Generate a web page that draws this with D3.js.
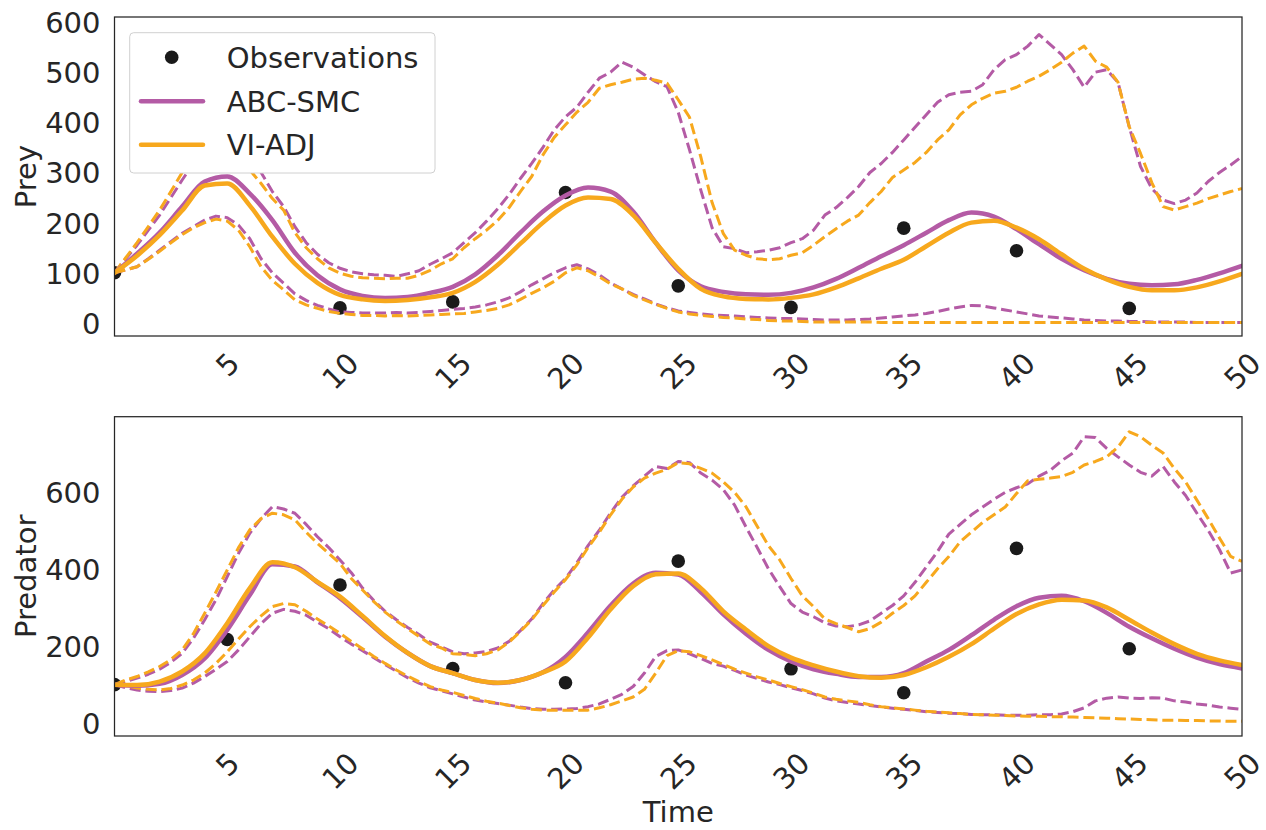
<!DOCTYPE html>
<html><head><meta charset="utf-8">
<script src="https://cdn.jsdelivr.net/npm/d3@7"></script>
<style>body{margin:0;background:#fff}svg{display:block;font-family:"DejaVu Sans",sans-serif}</style>
</head><body><svg id="c" width="1266" height="830"></svg>
<script>
// ---------- data ----------
const obsTime = [0,5,10,15,20,25,30,35,40,45];
const preyObs = [100,335,30,42,260,74,31,189,144,29];
const predObs = [100,217,358,142,105,420,141,79,453,193];

const meanTime = d3.range(51);               // t = 0..50 step 1
const bandTime = d3.range(101).map(i => i / 2); // t = 0..50 step 0.5

const preyAbcMean = [100,138,180,232,282,292,258,205,140,95, 67,54,50,52,60,72,97,135,180,222, 254,270,262,222,160,105,73,62,57,56, 60,71,88,110,133,155,180,205,220,212, 187,157,128,105,88,78,75,77,86,99, 114];
const preyViMean  = [100,134,175,224,274,278,234,172,118,80, 56,47,44,46,51,60,82,116,158,200, 234,250,247,215,160,108,68,53,48,47, 50,57,71,89,108,126,153,180,200,204, 190,167,137,108,87,72,65,65,71,83, 98];

const preyAbcUpper = [100,128,155,185,215,250,285,318,350,375, 385,375,340,300,262,232,192,160,137,120, 109,102,98,96,95,93,98,104,117,128, 140,160,180,203,228,256,288,318,350,385, 411,430,460,488,500,520,510,495,481,471, 420,345,265,190,152,148,140,142,145,150, 160,168,185,215,230,250,272,300,318,340, 365,390,415,440,455,460,462,475,505,525, 535,552,575,555,535,505,470,500,505,480, 391,312,268,245,238,245,259,282,300,315, 332];
const preyViUpper  = [100,130,160,192,225,262,300,335,360,372, 365,340,305,278,248,225,180,150,128,110, 99,93,90,89,88,89,89,95,105,118, 128,150,168,185,205,230,262,292,335,370, 395,420,440,468,475,480,486,488,484,478, 445,410,331,240,178,145,135,128,126,128, 135,140,155,172,188,203,215,240,262,290, 305,320,340,365,385,415,435,448,458,462, 470,482,492,505,520,538,552,522,510,480, 391,338,280,232,225,232,239,248,255,262, 268];
const preyAbcLower = [100,106,112,128,145,162,179,192,205,213, 210,195,168,128,100,79,58,45,35,28, 22,21,20,20,20,21,20,21,23,25, 27,29,32,36,42,50,62,76,88,100, 110,116,108,96,80,68,57,48,38,30, 24,21,18,16,15,14,12,11,10,9, 9,8,7,6,6,6,7,8,10,12, 14,16,19,23,28,32,35,34,30,26, 22,18,14,12,10,8,6,5,4,4, 3,3,2,2,2,2,1,1,1,1, 1];
const preyViLower  = [100,106,112,127,143,160,176,190,200,207, 203,185,152,112,85,66,46,36,29,23, 19,17,15,15,14,15,14,15,16,17, 18,19,22,25,29,36,47,59,70,83, 100,110,104,92,78,68,55,46,37,29, 22,18,15,13,11,10,8,7,5,4, 4,3,2,2,2,2,2,2,1,1, 1,1,1,1,1,1,1,1,1,1, 1,1,1,1,1,1,1,1,1,1, 1,1,1,1,1,1,1,1,1,1, 1];

const predAbcMean = [100,97,102,125,168,242,332,412,406,365, 324,275,224,182,148,130,112,104,112,132, 172,235,305,362,390,385,340,282,232,190, 160,140,128,120,120,130,160,190,228,268, 303,325,330,316,286,250,220,193,170,153, 142];
const predViMean  = [100,99,108,134,181,259,350,417,404,366, 328,278,226,182,148,130,112,105,112,132, 160,222,295,355,386,388,350,290,243,200, 170,150,134,122,118,125,145,172,205,245, 283,308,320,318,300,268,235,205,180,163, 151];

const predAbcUpper = [100,108,117,127,140,158,181,220,268,320, 380,440,492,530,561,555,544,515,483,455, 423,390,350,318,290,268,248,230,210,198, 185,180,182,186,195,212,240,270,310,345, 375,415,460,500,545,585,615,640,665,660, 678,675,648,630,605,565,509,455,400,354, 310,288,276,260,252,250,255,265,285,305, 330,365,405,445,490,515,540,560,580,598, 610,620,640,655,680,700,742,740,712,690, 669,650,640,665,625,590,544,500,450,389, 397];
const predViUpper  = [100,112,121,133,147,165,190,232,285,340, 397,455,501,530,544,540,527,495,466,440, 414,375,345,315,288,265,245,225,205,195, 180,178,175,180,190,210,238,268,305,340, 372,410,455,495,540,580,612,635,648,658, 675,672,660,648,625,598,561,510,460,423, 375,330,302,270,258,248,237,245,262,285, 305,330,365,400,432,470,495,520,540,560, 595,628,632,635,639,650,669,678,690,715, 755,742,720,700,660,625,578,530,480,432, 419];
const predAbcLower = [100,92,86,83,82,85,91,104,121,140, 160,190,224,258,285,295,290,280,262,245, 224,205,188,170,152,135,118,104,92,84, 76,68,60,55,51,47,42,38,36,36, 37,38,43,50,62,75,95,130,173,188, 190,180,168,155,148,137,125,116,107,100, 92,85,76,65,58,54,50,46,42,39, 36,33,30,28,26,25,23,22,22,21, 21,21,22,22,24,30,40,58,65,68, 65,64,66,65,58,55,50,47,42,39, 36];
const predViLower  = [100,98,91,88,86,90,99,112,130,155, 185,218,250,278,302,310,307,290,270,252, 233,212,193,173,155,138,122,108,95,86, 80,72,64,57,52,46,40,36,34,34, 34,34,34,40,48,58,68,88,130,175, 188,185,175,164,152,140,130,120,112,103, 95,87,78,68,62,58,54,48,43,40, 37,34,31,29,27,25,23,22,21,20, 19,18,18,17,17,16,15,14,13,12, 11,10,9,8,8,7,7,6,6,5, 5];

const xTicks = [5,10,15,20,25,30,35,40,45,50];
const preyTicks = [0,100,200,300,400,500,600];
const predTicks = [0,200,400,600];
const seriesNames = ["Observations","ABC-SMC","VI-ADJ"];

// ---------- style ----------
const PURPLE = "#b45ba5", ORANGE = "#f7a81d", DOT = "#1a1a1a", TXT = "#262626";
const FS = 29;
const svg = d3.select("#c");
const L = 114.5, R = 1242;
const x = d3.scaleLinear().domain([0, 50]).range([L, R]);

const panels = [
  {id:"p1", top:17, bottom:336, dom:[-26,610], ticks:preyTicks, label:"Prey", obs:preyObs,
   abc:[preyAbcMean,preyAbcUpper,preyAbcLower], vi:[preyViMean,preyViUpper,preyViLower]},
  {id:"p2", top:416.7, bottom:736, dom:[-33,794], ticks:predTicks, label:"Predator", obs:predObs,
   abc:[predAbcMean,predAbcUpper,predAbcLower], vi:[predViMean,predViUpper,predViLower]}
];

const defs = svg.append("defs");
const plotLayer = svg.append("g");
const axisLayer = svg.append("g");
const legendLayer = svg.append("g");

panels.forEach(p => {
  const y = d3.scaleLinear().domain(p.dom).range([p.bottom, p.top]);
  defs.append("clipPath").attr("id", "clip-" + p.id)
    .append("rect").attr("x", L).attr("y", p.top).attr("width", R - L).attr("height", p.bottom - p.top);
  const g = plotLayer.append("g").attr("clip-path", `url(#clip-${p.id})`);

  // observations (drawn below lines)
  g.selectAll("circle.obs").data(obsTime.map((t, i) => [t, p.obs[i]])).join("circle")
    .attr("class", "obs").attr("cx", d => x(d[0])).attr("cy", d => y(d[1])).attr("r", 6.8).attr("fill", DOT);

  const lineMean = d3.line().x((d, i) => x(meanTime[i])).y(d => y(d)).curve(d3.curveMonotoneX);
  const lineBand = d3.line().x((d, i) => x(bandTime[i])).y(d => y(d));

  [[p.abc, PURPLE], [p.vi, ORANGE]].forEach(([set, col]) => {
    [set[1], set[2]].forEach(arr => {
      g.append("path").attr("d", lineBand(arr)).attr("fill", "none").attr("stroke", col)
        .attr("stroke-width", 3).attr("stroke-dasharray", "11,4.8").attr("stroke-linejoin", "round");
    });
  });
  [[p.abc, PURPLE], [p.vi, ORANGE]].forEach(([set, col]) => {
    g.append("path").attr("d", lineMean(set[0])).attr("fill", "none").attr("stroke", col)
      .attr("stroke-width", 4.5).attr("stroke-linecap", "round");
  });

  // frame
  axisLayer.append("rect").attr("x", L).attr("y", p.top).attr("width", R - L).attr("height", p.bottom - p.top)
    .attr("fill", "none").attr("stroke", TXT).attr("stroke-width", 1.25);

  // y axis
  const ya = axisLayer.append("g").attr("transform", `translate(${L},0)`)
    .call(d3.axisLeft(y).tickValues(p.ticks).tickSize(0).tickPadding(14).tickFormat(d3.format("d")));
  ya.select(".domain").remove();
  ya.selectAll("text").attr("font-size", FS).attr("font-family", "DejaVu Sans").attr("fill", TXT).attr("dy", "0.36em");

  // x axis
  const xa = axisLayer.append("g").attr("transform", `translate(0,${p.bottom})`)
    .call(d3.axisBottom(x).tickValues(xTicks).tickSize(0).tickFormat(d3.format("d")));
  xa.select(".domain").remove();
  xa.selectAll("text").attr("font-size", FS).attr("font-family", "DejaVu Sans").attr("fill", TXT)
    .attr("y", null).attr("dy", null).attr("dominant-baseline", "central").attr("text-anchor", "middle")
    .each(function () {
      const w = this.getComputedTextLength();
      const bh = (w + 34) * Math.SQRT1_2;
      d3.select(this).attr("transform", `translate(0,${10 + bh / 2}) rotate(-45)`);
    });

  // y label
  axisLayer.append("text").attr("transform", `translate(36,${(p.top + p.bottom) / 2}) rotate(-90)`)
    .attr("text-anchor", "middle").attr("font-size", FS).attr("fill", TXT).text(p.label);
});

axisLayer.append("text").attr("x", (L + R) / 2).attr("y", 822).attr("text-anchor", "middle")
  .attr("font-size", FS).attr("fill", TXT).text("Time");

// legend (opaque box on top of everything)
legendLayer.append("rect").attr("x", 129.7).attr("y", 32.7).attr("width", 305.3).attr("height", 140.3)
  .attr("rx", 4).attr("ry", 4)
  .style("fill", "#ffffff").style("fill-opacity", 1).style("stroke", "#d0d0d0").style("stroke-width", 1);
const rows = [57.3, 101.3, 144.7];
legendLayer.append("circle").attr("cx", 171.7).attr("cy", rows[0]).attr("r", 6.8).attr("fill", DOT);
legendLayer.append("line").attr("x1", 141).attr("x2", 203).attr("y1", rows[1]).attr("y2", rows[1])
  .attr("stroke", PURPLE).attr("stroke-width", 4.5).attr("stroke-linecap", "round");
legendLayer.append("line").attr("x1", 141).attr("x2", 203).attr("y1", rows[2]).attr("y2", rows[2])
  .attr("stroke", ORANGE).attr("stroke-width", 4.5).attr("stroke-linecap", "round");
seriesNames.forEach((n, i) => {
  legendLayer.append("text").attr("x", 226.7).attr("y", rows[i] + 10.5).attr("font-size", FS).attr("fill", TXT).text(n);
});
legendLayer.raise();
</script>
</body></html>
